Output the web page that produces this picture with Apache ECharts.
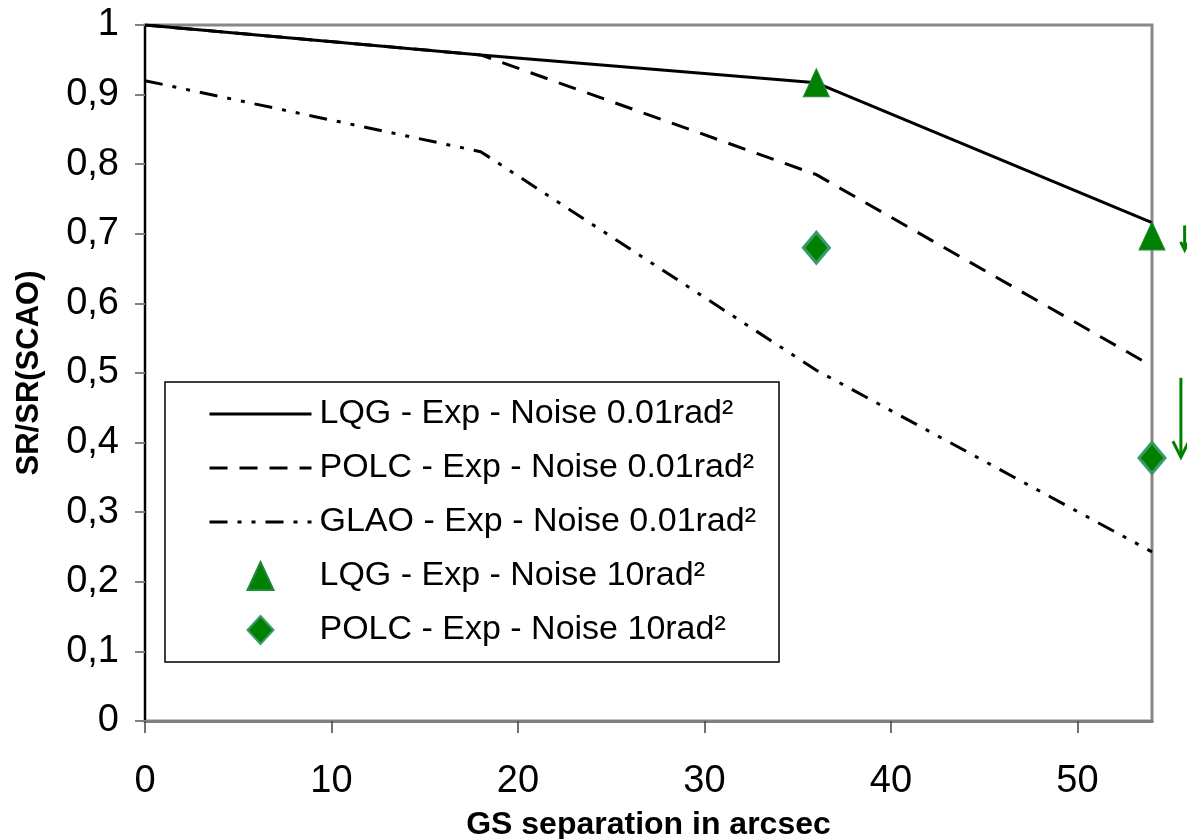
<!DOCTYPE html>
<html>
<head>
<meta charset="utf-8">
<title>SR/SR(SCAO) vs GS separation</title>
<script src="https://cdn.jsdelivr.net/npm/echarts@6/dist/echarts.min.js"></script>
<style>
  html, body { margin: 0; padding: 0; background: #fff; }
  #chart { width: 1187px; height: 839px; }
</style>
</head>
<body>
<div id="chart"></div>
<script>
// GS separation (arcsec) and normalised Strehl ratios
const lqgLowNoise  = [[0, 1.0], [18, 0.957], [36, 0.917], [54, 0.716]];
const polcLowNoise = [[0, 1.0], [18, 0.957], [36, 0.785], [54, 0.510]];
const glaoLowNoise = [[0, 0.92], [18, 0.818], [36, 0.504], [54, 0.243]];
const lqgHighNoise  = [[36, 0.917], [54, 0.697]];
const polcHighNoise = [[36, 0.680], [54, 0.378]];

const seriesNames = [
  'LQG - Exp - Noise 0.01rad²',
  'POLC - Exp - Noise 0.01rad²',
  'GLAO - Exp - Noise 0.01rad²',
  'LQG - Exp - Noise 10rad²',
  'POLC - Exp - Noise 10rad²'
];
const xTicks = [0, 10, 20, 30, 40, 50];

// downward arrows beside the right edge (data units: x, yFrom, yTo)
const arrowNotes = [
  { x: 55.75, from: 0.712, to: 0.677, head: 4 },
  { x: 55.55, from: 0.493, to: 0.379, head: 8 }
];

const FONT = "'Liberation Sans', Arial, sans-serif";
const GREEN = '#008000';

// legend glyphs: a centred marker inside a 102x30 box (corner stubs keep the box size)
const BOX = 'M0 0L0 0.01M102 30L102 29.99';
const legendTriangle = 'path://' + BOX + 'M51 1L64 29L38 29Z';
const legendDiamond  = 'path://' + BOX + 'M51 1L64 15L51 29L38 15Z';
const hiddenMarker = { color: 'rgba(0,0,0,0)', borderColor: 'rgba(0,0,0,0)', borderWidth: 0 };

const chart = echarts.init(document.getElementById('chart'), null, { renderer: 'canvas' });

const fmtComma = v => (v === 0 || v === 1) ? String(v) : v.toFixed(1).replace('.', ',');

chart.setOption({
  backgroundColor: '#ffffff',
  animation: false,
  grid: {
    left: 145, right: 35, top: 25, bottom: 118,
    outerBoundsMode: 'none', containLabel: false,
    show: true, borderColor: '#888888', borderWidth: 3, backgroundColor: 'transparent'
  },
  legend: {
    orient: 'vertical',
    left: 165, top: 382,
    padding: [15, 23, 15, 43],
    itemWidth: 102, itemHeight: 30, itemGap: 20,
    borderColor: '#000', borderWidth: 1.5, backgroundColor: '#fff',
    lineStyle: { width: 3 },
    textStyle: { fontFamily: FONT, fontSize: 34, color: '#000', lineHeight: 30, padding: [0, 0, 0, 3] },
    data: [
      { name: seriesNames[0], itemStyle: hiddenMarker },
      { name: seriesNames[1], itemStyle: hiddenMarker },
      { name: seriesNames[2], itemStyle: hiddenMarker },
      { name: seriesNames[3], icon: legendTriangle },
      { name: seriesNames[4], icon: legendDiamond }
    ]
  },
  xAxis: {
    type: 'value', min: 0, max: 54, interval: 10,
    name: 'GS separation in arcsec', nameLocation: 'middle', nameGap: 88,
    nameTextStyle: { fontFamily: FONT, fontSize: 32, fontWeight: 'bold', color: '#000' },
    axisLine: { show: true, onZero: false, lineStyle: { color: '#808080', width: 3 } },
    axisTick: { show: true, length: 12, customValues: xTicks, lineStyle: { color: '#444', width: 1.5 } },
    axisLabel: { customValues: xTicks, margin: 42, fontFamily: FONT, fontSize: 38, color: '#000' },
    splitLine: { show: false }
  },
  yAxis: {
    type: 'value', min: 0, max: 1, interval: 0.1,
    name: 'SR/SR(SCAO)', nameLocation: 'middle', nameGap: 100,
    nameTextStyle: { fontFamily: FONT, fontSize: 31, fontWeight: 'bold', color: '#000' },
    axisLine: { show: true, onZero: false, lineStyle: { color: '#000', width: 2 } },
    axisTick: { show: true, length: 10, lineStyle: { color: '#808080', width: 2 } },
    axisLabel: { margin: 26, fontFamily: FONT, fontSize: 38, color: '#000', formatter: fmtComma },
    splitLine: { show: false }
  },
  series: [
    {
      name: seriesNames[0], type: 'line', data: lqgLowNoise, symbol: 'none', z: 3,
      itemStyle: { color: '#000' },
      lineStyle: { color: '#000', width: 3, type: 'solid' }
    },
    {
      name: seriesNames[1], type: 'line', data: polcLowNoise, symbol: 'none', z: 3,
      itemStyle: { color: '#000' },
      lineStyle: { color: '#000', width: 3, type: [18, 12] }
    },
    {
      name: seriesNames[2], type: 'line', data: glaoLowNoise, symbol: 'none', z: 3,
      itemStyle: { color: '#000' },
      lineStyle: { color: '#000', width: 3, type: [18, 10, 4, 10, 4, 10] }
    },
    {
      name: seriesNames[3], type: 'scatter', data: lqgHighNoise, z: 4,
      symbol: 'triangle', symbolSize: [26, 28],
      itemStyle: { color: GREEN, borderColor: '#1f8a3a', borderWidth: 1, opacity: 1 }
    },
    {
      name: seriesNames[4], type: 'scatter', data: polcHighNoise, z: 4,
      symbol: 'diamond', symbolSize: [26, 31],
      itemStyle: { color: GREEN, borderColor: '#3a9a6a', borderWidth: 3, opacity: 1 }
    }
  ]
});

// annotation arrows placed through the chart's own coordinate system
const arrowGraphics = [];
arrowNotes.forEach(a => {
  const p0 = chart.convertToPixel({ gridIndex: 0 }, [a.x, a.from]);
  const p1 = chart.convertToPixel({ gridIndex: 0 }, [a.x, a.to]);
  arrowGraphics.push({
    type: 'line', silent: true, z: 10,
    shape: { x1: p0[0], y1: p0[1], x2: p1[0], y2: p1[1] },
    style: { stroke: GREEN, lineWidth: 3 }
  });
  arrowGraphics.push({
    type: 'polyline', silent: true, z: 10,
    shape: { points: [[p1[0] - a.head, p1[1] - a.head * 2], [p1[0], p1[1]], [p1[0] + a.head, p1[1] - a.head * 2]] },
    style: { stroke: GREEN, lineWidth: 3, fill: null }
  });
});
chart.setOption({ graphic: arrowGraphics });
</script>
</body>
</html>
